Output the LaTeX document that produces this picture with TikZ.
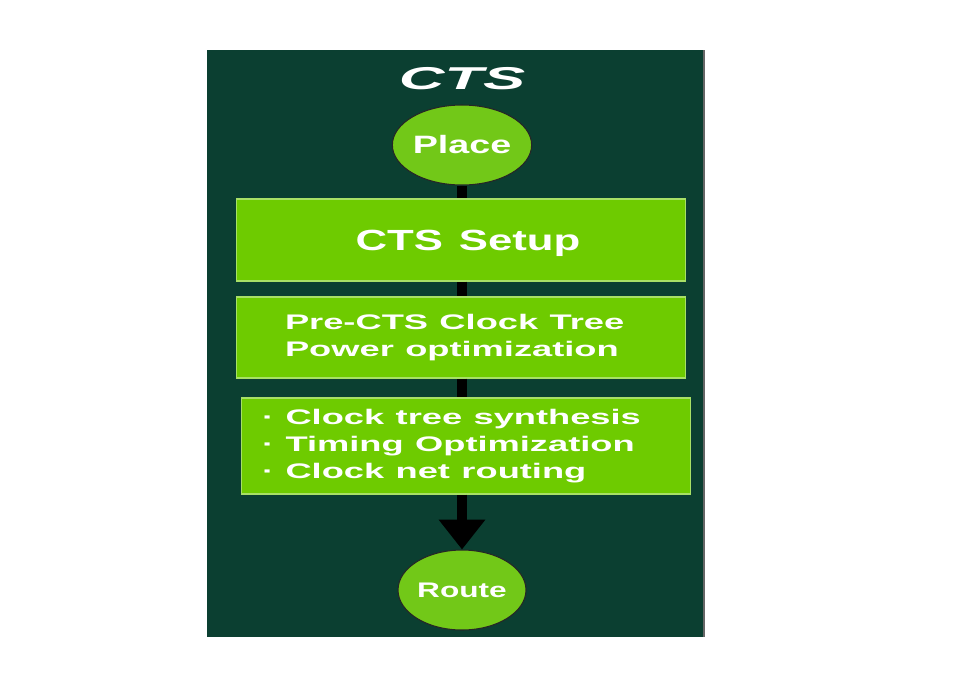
\documentclass[tikz,border=0pt]{standalone}
\usepackage{fontspec}
\setmainfont{Liberation Sans}
\newfontfamily\wideA[FakeStretch=1.5, WordSpace=1.3]{Liberation Sans}
\newfontfamily\wideB[FakeStretch=1.72]{Liberation Sans}
\newfontfamily\wideC[FakeStretch=2.0]{Liberation Sans}
\usepackage{tikz}
\usetikzlibrary{shapes.geometric,arrows.meta,positioning}
\definecolor{panelgreen}{RGB}{11,63,49}
\definecolor{limegreen}{RGB}{110,203,0}
\definecolor{ovalgreen}{RGB}{114,200,24}

\begin{document}
\begin{tikzpicture}[x=0.02cm, y=-0.02cm,
    stage/.style={ellipse, fill=ovalgreen, draw=black!85, line width=0.6pt,
        minimum width=2.56cm, minimum height=1.6cm, inner sep=0pt, text=white},
    stepbox/.style={rectangle, fill=limegreen, draw=limegreen!60!white, line width=0.6pt,
        minimum width=9cm, text=white},
    listbox/.style={stepbox, align=left, font={\fontsize{12}{15.3}\wideB\bfseries},
        execute at begin node={\spaceskip=6.5pt\relax}},
    flow/.style={line width=6pt, black}]
    \useasboundingbox (0,0) rectangle (976,676);

    % Background panel
    \fill[panelgreen] (207,50) rectangle (704,637);
    \draw[black!60, line width=1pt] (704,50) -- (704,637);

    % Title
    \node[text=white, font={\fontsize{18}{20}\wideC\bfseries\itshape}] (title) at (462,79) {CTS};

    % Flow stages
    \node[stage, font={\fontsize{14.3}{17}\wideA\bfseries}] (place) at (462,145) {Place};
    \node[stepbox, minimum height=1.64cm, text depth=0pt, font={\fontsize{16.6}{20}\wideA\bfseries}]
        (setup) at (461,240) {\hspace{8pt}CTS Setup};
    \node[listbox, minimum height=1.62cm, inner xsep=0.98cm, text width=7.04cm]
        (prects) at (461,337.5) {Pre-CTS Clock Tree\\Power optimization};
    \node[listbox, minimum height=1.92cm, inner xsep=0.42cm, text width=8.16cm]
        (ctsopt) at (466,446) {· Clock tree synthesis\\· Timing Optimization\\· Clock net routing};
    \node[stage, font={\fontsize{12}{15}\wideA\bfseries}] (route) at (462,590) {Route};

    % Connectors
    \draw[flow] (place) -- (place |- setup.north);
    \draw[flow] (place |- setup.south) -- (place |- prects.north);
    \draw[flow] (place |- prects.south) -- (place |- ctsopt.north);
    \draw[flow, -{Triangle[length=17pt,width=25.5pt]}] (route |- ctsopt.south) -- (route);
\end{tikzpicture}
\end{document}
